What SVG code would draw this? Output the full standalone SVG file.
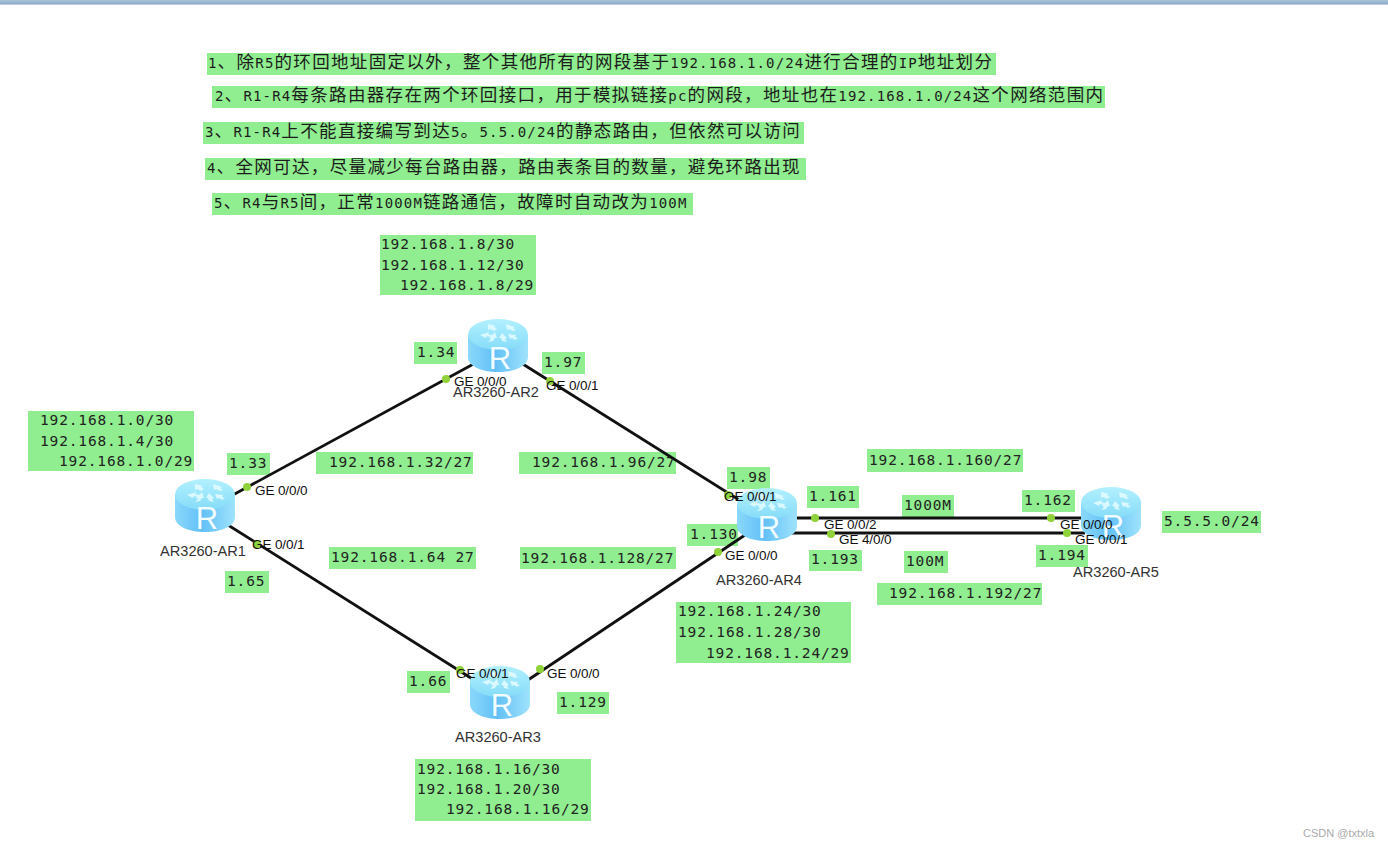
<svg xmlns="http://www.w3.org/2000/svg" width="1388" height="847" viewBox="0 0 1388 847">
<style>
.bg{fill:#90ee90}
.t{font-family:"Noto Sans CJK SC","DejaVu Sans Mono",sans-serif;font-size:17.5px;letter-spacing:1.35px;fill:#1c1c1c}
.m{font-family:"DejaVu Sans Mono",monospace;font-size:14px;letter-spacing:1.15px}
.l{font-family:"DejaVu Sans Mono",monospace;font-size:14.5px;letter-spacing:.85px;fill:#222}
.p{font-family:"Liberation Sans",Arial,sans-serif;font-size:13.5px;fill:#111;letter-spacing:-.1px}
.n{font-family:"Liberation Sans",Arial,sans-serif;font-size:14.6px;fill:#333}
.w{font-family:"Liberation Sans",Arial,sans-serif;font-size:11px;fill:#aaa}
.c{stroke:#111;stroke-width:2.8;fill:none}
.d{fill:#8fd239}
.r{font-family:"Liberation Sans",Arial,sans-serif;font-size:31px;fill:#f2fbff}
</style>
<defs>
<linearGradient id="bar" x1="0" y1="0" x2="0" y2="1"><stop offset="0" stop-color="#a9c2d8"/><stop offset=".8" stop-color="#8fadc8"/><stop offset="1" stop-color="#e8eef2"/></linearGradient>
<linearGradient id="body" x1="0" y1="0" x2="1" y2="0"><stop offset="0" stop-color="#8ad8fb"/><stop offset=".45" stop-color="#63c0f7"/><stop offset="1" stop-color="#9fe3fc"/></linearGradient>
<linearGradient id="top" x1="0" y1="0" x2="0" y2="1"><stop offset="0" stop-color="#b2f0ff"/><stop offset="1" stop-color="#86dcf8"/></linearGradient>
<g id="router">
<path d="M0 16V38C0 47 13 53 30 53S60 47 60 38V16Z" fill="url(#body)"/>
<ellipse cx="30" cy="15.5" rx="30" ry="15.5" fill="url(#top)"/>
<path d="M20 5l8 2-2 1 3 2-3 2-4-2-2 1zM38 5l9 3-2 1 3 2-3 1-4-2-2 1zM12 16l9-3-1 2 4 1-2 2-3-1-1 2zM40 15l8 1-1 2 3 1-3 2-3-2-2 1zM27 13l-6 6 2 1-3 3 5-1 2-3 2 0zM34 14l5 5-2 1 2 3-5-1-1-3-2 0z" fill="#e4fbff" fill-opacity=".85"/>
<text class="r" x="32" y="50" text-anchor="middle">R</text>
</g>
</defs>
<rect width="1388" height="847" fill="#fff"/>
<rect width="1388" height="5" fill="url(#bar)"/>

<g id="requirements">
<rect class="bg" x="207" y="53" width="789" height="22"/>
<text class="t" x="208" y="68"><tspan class="m">1</tspan>、除<tspan class="m">R5</tspan>的环回地址固定以外，整个其他所有的网段基于<tspan class="m">192.168.1.0/24</tspan>进行合理的<tspan class="m">IP</tspan>地址划分</text>
<rect class="bg" x="212" y="86" width="893" height="22"/>
<text class="t" x="215" y="101"><tspan class="m">2</tspan>、<tspan class="m">R1-R4</tspan>每条路由器存在两个环回接口，用于模拟链接<tspan class="m">pc</tspan>的网段，地址也在<tspan class="m">192.168.1.0/24</tspan>这个网络范围内</text>
<rect class="bg" x="203" y="122" width="601" height="22"/>
<text class="t" x="205" y="137"><tspan class="m">3</tspan>、<tspan class="m">R1-R4</tspan>上不能直接编写到达<tspan class="m">5</tspan>。<tspan class="m">5.5.0/24</tspan>的静态路由，但依然可以访问</text>
<rect class="bg" x="205" y="158" width="601" height="22"/>
<text class="t" x="207" y="173"><tspan class="m">4</tspan>、全网可达，尽量减少每台路由器，路由表条目的数量，避免环路出现</text>
<rect class="bg" x="212" y="193" width="481" height="22"/>
<text class="t" x="214" y="208"><tspan class="m">5</tspan>、<tspan class="m">R4</tspan>与<tspan class="m">R5</tspan>间，正常<tspan class="m">1000M</tspan>链路通信，故障时自动改为<tspan class="m">100M</tspan></text>
</g>

<g id="annotations">
<rect class="bg" x="380" y="235" width="156" height="60"/>
<text class="l" x="381" y="249">192.168.1.8/30</text><text class="l" x="381" y="270">192.168.1.12/30</text><text class="l" x="400" y="290">192.168.1.8/29</text>
<rect class="bg" x="28" y="411" width="166" height="60"/>
<text class="l" x="40" y="425">192.168.1.0/30</text><text class="l" x="40" y="446">192.168.1.4/30</text><text class="l" x="59" y="466">192.168.1.0/29</text>
<rect class="bg" x="676" y="602" width="175" height="61"/>
<text class="l" x="678" y="616">192.168.1.24/30</text><text class="l" x="678" y="637">192.168.1.28/30</text><text class="l" x="706" y="658">192.168.1.24/29</text>
<rect class="bg" x="415" y="759" width="176" height="62"/>
<text class="l" x="417" y="774">192.168.1.16/30</text><text class="l" x="417" y="794">192.168.1.20/30</text><text class="l" x="446" y="814">192.168.1.16/29</text>
<rect class="bg" x="414" y="342" width="43" height="22"/><text class="l" x="417" y="357">1.34</text>
<rect class="bg" x="542" y="352" width="43" height="22"/><text class="l" x="544" y="367">1.97</text>
<rect class="bg" x="227" y="453" width="43" height="22"/><text class="l" x="229" y="468">1.33</text>
<rect class="bg" x="316" y="452" width="157" height="22"/><text class="l" x="329" y="467">192.168.1.32/27</text>
<rect class="bg" x="519" y="452" width="157" height="22"/><text class="l" x="532" y="467">192.168.1.96/27</text>
<rect class="bg" x="329" y="547" width="147" height="22"/><text class="l" x="331" y="562">192.168.1.64 27</text>
<rect class="bg" x="520" y="547" width="156" height="22"/><text class="l" x="521" y="563">192.168.1.128/27</text>
<rect class="bg" x="225" y="571" width="44" height="22"/><text class="l" x="227" y="586">1.65</text>
<rect class="bg" x="727" y="467" width="43" height="22"/><text class="l" x="729" y="482">1.98</text>
<rect class="bg" x="687" y="524" width="51" height="22"/><text class="l" x="690" y="539">1.130</text>
<rect class="bg" x="807" y="486" width="52" height="22"/><text class="l" x="809" y="501">1.161</text>
<rect class="bg" x="902" y="495" width="52" height="22"/><text class="l" x="904" y="510">1000M</text>
<rect class="bg" x="1022" y="490" width="53" height="22"/><text class="l" x="1024" y="505">1.162</text>
<rect class="bg" x="1162" y="511" width="99" height="22"/><text class="l" x="1164" y="526">5.5.5.0/24</text>
<rect class="bg" x="867" y="449" width="156" height="23"/><text class="l" x="869" y="465">192.168.1.160/27</text>
<rect class="bg" x="809" y="550" width="53" height="21"/><text class="l" x="811" y="564">1.193</text>
<rect class="bg" x="904" y="551" width="44" height="22"/><text class="l" x="906" y="566">100M</text>
<rect class="bg" x="1036" y="545" width="52" height="22"/><text class="l" x="1038" y="560">1.194</text>
<rect class="bg" x="877" y="583" width="165" height="22"/><text class="l" x="889" y="598">192.168.1.192/27</text>
<rect class="bg" x="407" y="671" width="43" height="22"/><text class="l" x="409" y="686">1.66</text>
<rect class="bg" x="557" y="692" width="52" height="22"/><text class="l" x="559" y="707">1.129</text>
</g>

<g id="connectors">
<line class="c" x1="220" y1="502" x2="490" y2="355"/>
<line class="c" x1="220" y1="520" x2="490" y2="690"/>
<line class="c" x1="510" y1="356" x2="760" y2="513"/>
<line class="c" x1="510" y1="692" x2="760" y2="525"/>
<line class="c" x1="780" y1="518" x2="1100" y2="518"/>
<line class="c" x1="780" y1="533" x2="1085" y2="533"/>
</g>

<g id="AR1"><use href="#router" x="175" y="479"/><text class="n" x="160" y="556">AR3260-AR1</text></g>
<g id="AR2"><use href="#router" x="468" y="319"/><text class="n" x="453" y="397">AR3260-AR2</text></g>
<g id="AR3"><use href="#router" x="470" y="666"/><text class="n" x="455" y="742">AR3260-AR3</text></g>
<g id="AR4"><use href="#router" x="737" y="488"/><text class="n" x="716" y="585">AR3260-AR4</text></g>
<g id="AR5"><use href="#router" x="1081" y="487"/><text class="n" x="1073" y="577">AR3260-AR5</text></g>

<g id="ports">
<circle class="d" cx="247" cy="487" r="4"/><text class="p" x="255" y="495">GE 0/0/0</text>
<circle class="d" cx="257" cy="544" r="4"/><text class="p" x="252" y="549">GE 0/0/1</text>
<circle class="d" cx="446" cy="379" r="4"/><text class="p" x="454" y="386">GE 0/0/0</text>
<circle class="d" cx="550" cy="381" r="4"/><text class="p" x="546" y="390">GE 0/0/1</text>
<circle class="d" cx="460" cy="670" r="4"/><text class="p" x="456" y="678">GE 0/0/1</text>
<circle class="d" cx="540" cy="669" r="4"/><text class="p" x="547" y="678">GE 0/0/0</text>
<circle class="d" cx="728" cy="495" r="4"/><text class="p" x="724" y="501">GE 0/0/1</text>
<circle class="d" cx="718" cy="552" r="4"/><text class="p" x="725" y="560">GE 0/0/0</text>
<circle class="d" cx="815" cy="518" r="4"/><text class="p" x="824" y="529">GE 0/0/2</text>
<circle class="d" cx="831" cy="534" r="4"/><text class="p" x="839" y="544">GE 4/0/0</text>
<circle class="d" cx="1051" cy="518" r="4"/><text class="p" x="1060" y="529">GE 0/0/0</text>
<circle class="d" cx="1067" cy="533" r="4"/><text class="p" x="1075" y="544">GE 0/0/1</text>
</g>
<text class="w" x="1303" y="837">CSDN @txtxla</text>
</svg>
